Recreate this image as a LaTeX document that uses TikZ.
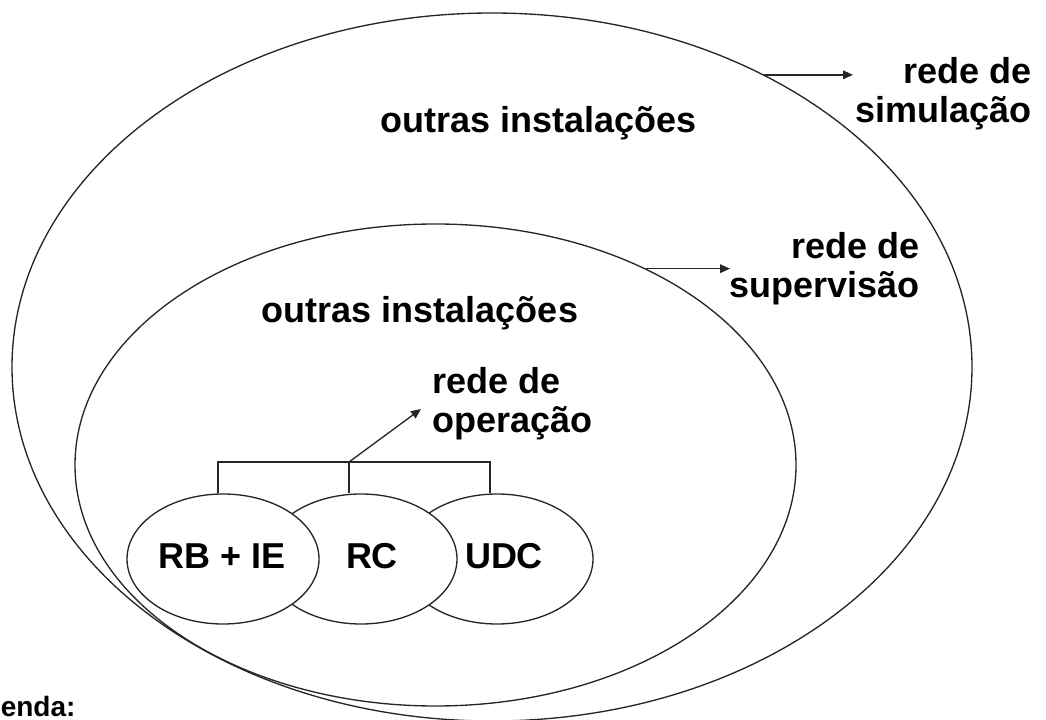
\documentclass[tikz,border=0pt]{standalone}
\usepackage{fontspec}
\setmainfont{Liberation Sans}
\usetikzlibrary{shapes.geometric,arrows.meta}
\begin{document}
\begin{tikzpicture}[x=0.75pt,y=-0.75pt,
  ln/.style={line width=1pt,draw=black!85},
  ring/.style={ellipse,ln,inner sep=0pt},
  unit/.style={ring,fill=white,minimum width=144pt,minimum height=97.5pt},
  txt/.style={font=\fontsize{27}{29}\selectfont\bfseries,inner sep=0pt},
  arr/.style={ln,-{Triangle[length=7.5pt,width=6.5pt]}}]
\useasboundingbox (0,0) rectangle (1046,720);
\clip (0,0) rectangle (1046,720);
% big ellipses
\node[ring,minimum width=720pt,minimum height=531pt] (sim) at (492,367) {};
\node[ring,minimum width=540.75pt,minimum height=361.5pt] (sup) at (435.5,465) {};
% small ellipses
\node[unit] (udc) at (497,559) {};
\node[unit] (rc) at (361,559) {};
\node[unit] (rbie) at (223,559) {};
\node[txt,anchor=base] (tudc) at (504,568) {UDC};
\node[txt,anchor=base] (trc) at (372,568) {RC};
\node[txt,anchor=base] (trbie) at (222.5,568) {RB + IE};
% texts
\node[txt,anchor=base] (oi1) at (538.5,133) {outras instalações};
\node[txt,anchor=base] (oi2) at (420,323) {outras instalações};
\node[txt,align=right,anchor=north east] (lsim) at (1032,57) {rede de\\simulação};
\node[txt,align=right,anchor=north east] (lsup) at (920,232) {rede de\\supervisão};
\node[txt,align=left,anchor=north west] (lop) at (432,367) {rede de\\operação};
\node[font=\fontsize{21}{24}\selectfont\bfseries,inner sep=0pt,anchor=base west] (leg) at (0.5,716) {enda:};
% bracket
\coordinate (bl) at (218,462);
\coordinate (bm) at (349,462);
\coordinate (br) at (490,462);
\coordinate (optip) at (421,409);
\draw[ln] (bl |- rbie.north) -- (bl) -- (br) -- (br |- udc.north);
\draw[ln] (bm) -- (bm |- rc.north);
\draw[arr] (bm) -- (optip);
% arrows
\coordinate (simtip) at (853,73);
\coordinate (suptip) at (730,267);
\draw[arr] (sim.47.6) -- (sim.47.6 -| simtip);
\draw[arr] (sup.43.8) -- (sup.43.8 -| suptip);
\end{tikzpicture}
\end{document}
